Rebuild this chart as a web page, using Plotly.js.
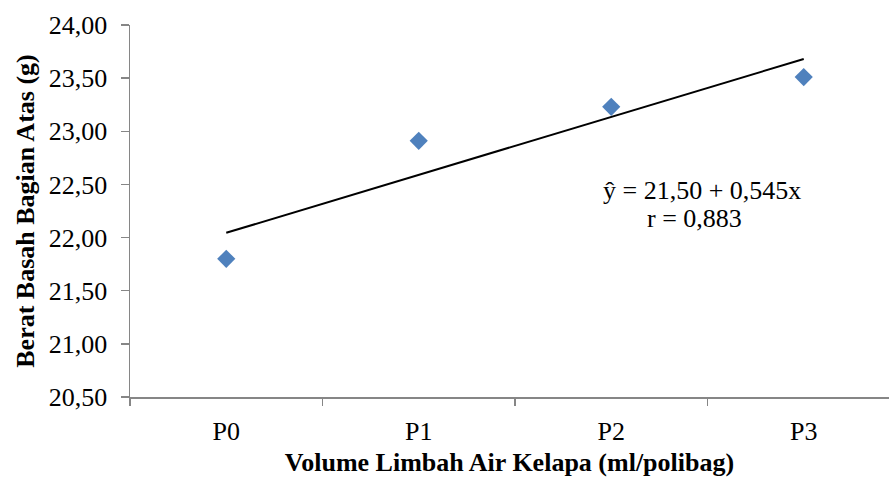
<!DOCTYPE html>
<html>
<head>
<meta charset="utf-8">
<script src="https://cdn.plot.ly/plotly-3.0.1.min.js"></script>
<style>html,body{margin:0;padding:0;background:#fff;}#chart{width:889px;height:482px;}</style>
</head>
<body>
<div id="chart"></div>
<script>
const categories = ['P0', 'P1', 'P2', 'P3'];
const beratBasah = [21.80, 22.91, 23.23, 23.51];
const trendIntercept = 21.50;
const trendSlope = 0.545;
const equationText = 'ŷ = 21,50 + 0,545x';
const rText = 'r = 0,883';
const yTickVals = [20.5, 21.0, 21.5, 22.0, 22.5, 23.0, 23.5, 24.0];
const yTickText = ['20,50', '21,00', '21,50', '22,00', '22,50', '23,00', '23,50', '24,00'];

const trendX = [categories[0], categories[categories.length - 1]];
const trendY = [trendIntercept + trendSlope * 1, trendIntercept + trendSlope * categories.length];

const serif = '"Liberation Serif", "Times New Roman", serif';
const axisColor = '#868686';

const data = [
  {
    x: trendX, y: trendY, type: 'scatter', mode: 'lines',
    line: {color: '#000000', width: 2}, hoverinfo: 'skip', showlegend: false
  },
  {
    x: categories, y: beratBasah, type: 'scatter', mode: 'markers',
    marker: {symbol: 'diamond', size: 14, color: '#4F81BD'}, showlegend: false
  }
];

const layout = {
  width: 889, height: 482,
  margin: {l: 130, r: 0, t: 25, b: 85},
  paper_bgcolor: '#ffffff', plot_bgcolor: '#ffffff',
  font: {family: serif, color: '#000000', size: 26},
  xaxis: {
    type: 'category', categoryorder: 'array', categoryarray: categories,
    range: [-0.5, 3.443], tickson: 'boundaries',
    showline: true, linecolor: axisColor, linewidth: 1.5,
    ticks: 'outside', ticklen: 7, tickcolor: axisColor, tickwidth: 1.5,
    ticklabelstandoff: 10,
    showgrid: false, zeroline: false,
    tickfont: {family: serif, size: 26, color: '#000'},
    title: {text: '<b>Volume Limbah Air Kelapa (ml/polibag)</b>', font: {family: serif, size: 26, color: '#000'}, standoff: 8}
  },
  yaxis: {
    range: [20.5, 24.0], tickmode: 'array', tickvals: yTickVals, ticktext: yTickText,
    showline: true, linecolor: axisColor, linewidth: 1.5,
    ticks: 'outside', ticklen: 8, tickcolor: axisColor, tickwidth: 1.5,
    ticklabelstandoff: 8,
    showgrid: false, zeroline: false,
    tickfont: {family: serif, size: 26, color: '#000'},
    title: {text: '<b>Berat Basah Bagian Atas (g)</b>', font: {family: serif, size: 26, color: '#000'}, standoff: 6}
  },
  annotations: [
    {
      xref: 'paper', yref: 'paper', x: (702 - 130) / 759, y: (397 - 190) / 372,
      xanchor: 'center', yanchor: 'middle',
      text: equationText, showarrow: false,
      font: {family: serif, size: 26, color: '#000'}
    },
    {
      xref: 'paper', yref: 'paper', x: (694 - 130) / 759, y: (397 - 218) / 372,
      xanchor: 'center', yanchor: 'middle',
      text: rText, showarrow: false,
      font: {family: serif, size: 26, color: '#000'}
    }
  ]
};

Plotly.newPlot('chart', data, layout, {displayModeBar: false, staticPlot: true});
</script>
</body>
</html>
